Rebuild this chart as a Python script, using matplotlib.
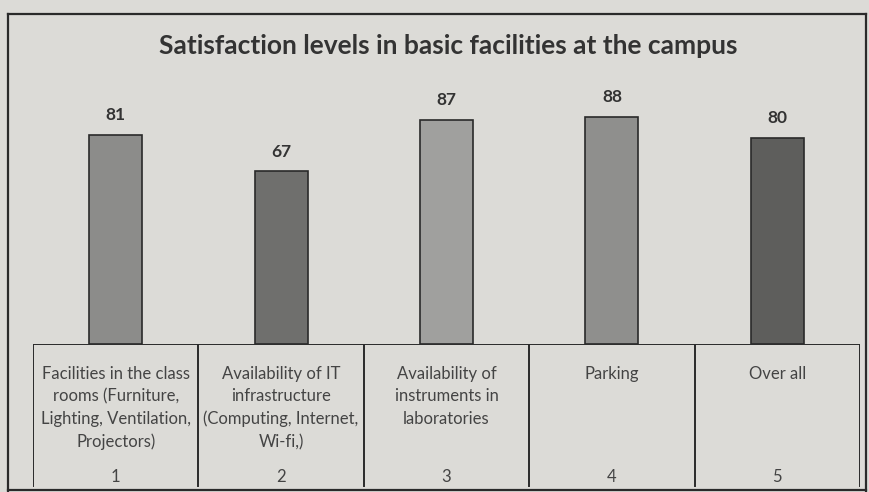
import matplotlib.pyplot as plt
import numpy as np

plt.rcParams['font.family'] = ['Lato', 'DejaVu Sans']

# Data
categories = [
    "Facilities in the class\nrooms (Furniture,\nLighting, Ventilation,\nProjectors)",
    "Availability of IT\ninfrastructure\n(Computing, Internet,\nWi-fi,)",
    "Availability of\ninstruments in\nlaboratories",
    "Parking",
    "Over all",
]
numbers = ["1", "2", "3", "4", "5"]
values = [81, 67, 87, 88, 80]
bar_colors = ["#8c8c8a", "#6f6f6d", "#a0a09e", "#8f8f8d", "#5e5e5c"]

W, H = 869, 492
fig = plt.figure(figsize=(W / 100, H / 100), dpi=100)
fig.patch.set_facecolor("#dcdbd7")

# outer frame
fig.add_artist(plt.Line2D([8 / W, 8 / W], [0, 1 - 14 / H], color="#2a2a2a", lw=1.6))
fig.add_artist(plt.Line2D([8 / W, 866 / W], [1 - 14 / H, 1 - 14 / H], color="#2a2a2a", lw=1.6))
fig.add_artist(plt.Line2D([866 / W, 866 / W], [0, 1 - 14 / H], color="#2a2a2a", lw=1.6))
fig.add_artist(plt.Line2D([8 / W, 866 / W], [2 / H, 2 / H], color="#2a2a2a", lw=1.6))

# bar axes: x from 33 to 860 px, y=0 at 344 px, y=100 at 86 px
left, right = 33 / W, 860 / W
y0, y100 = 1 - 344 / H, 1 - 86 / H
ax = fig.add_axes([left, y0, right - left, y100 - y0])
ax.set_facecolor("none")
x = np.arange(len(values))
ax.bar(x, values, width=0.32, color=bar_colors, edgecolor="#2a2a2a", linewidth=1.2)
for xi, v in zip(x, values):
    ax.text(xi, v + 4.5, str(v), ha="center", va="bottom", fontsize=12.5,
            fontweight="bold", color="#333333")
ax.set_xlim(-0.5, len(values) - 0.5)
ax.set_ylim(0, 100)
ax.axis("off")

# table below
tab = fig.add_axes([left, 0, right - left, y0])
tab.set_facecolor("none")
tab.set_xlim(-0.5, len(values) - 0.5)
tab.set_ylim(0, 1)
tab.axis("off")
tab.plot([-0.5, len(values) - 0.5], [1, 1], color="#2a2a2a", lw=1.4)
for b in np.arange(-0.5, len(values), 1.0):
    tab.plot([b, b], [0.04, 1], color="#2a2a2a", lw=1.4)
for xi, (c, n) in enumerate(zip(categories, numbers)):
    tab.text(xi, 0.852, c, ha="center", va="top", fontsize=12,
             color="#444444", linespacing=1.49)
    tab.text(xi, 0.10, n, ha="center", va="center", fontsize=12, color="#444444")

fig.text(448 / W, 1 - 46 / H, "Satisfaction levels in basic facilities at the campus",
         ha="center", va="center", fontsize=19, fontweight="bold", color="#333333")

fig.savefig("out.png", dpi=100, facecolor=fig.get_facecolor())
